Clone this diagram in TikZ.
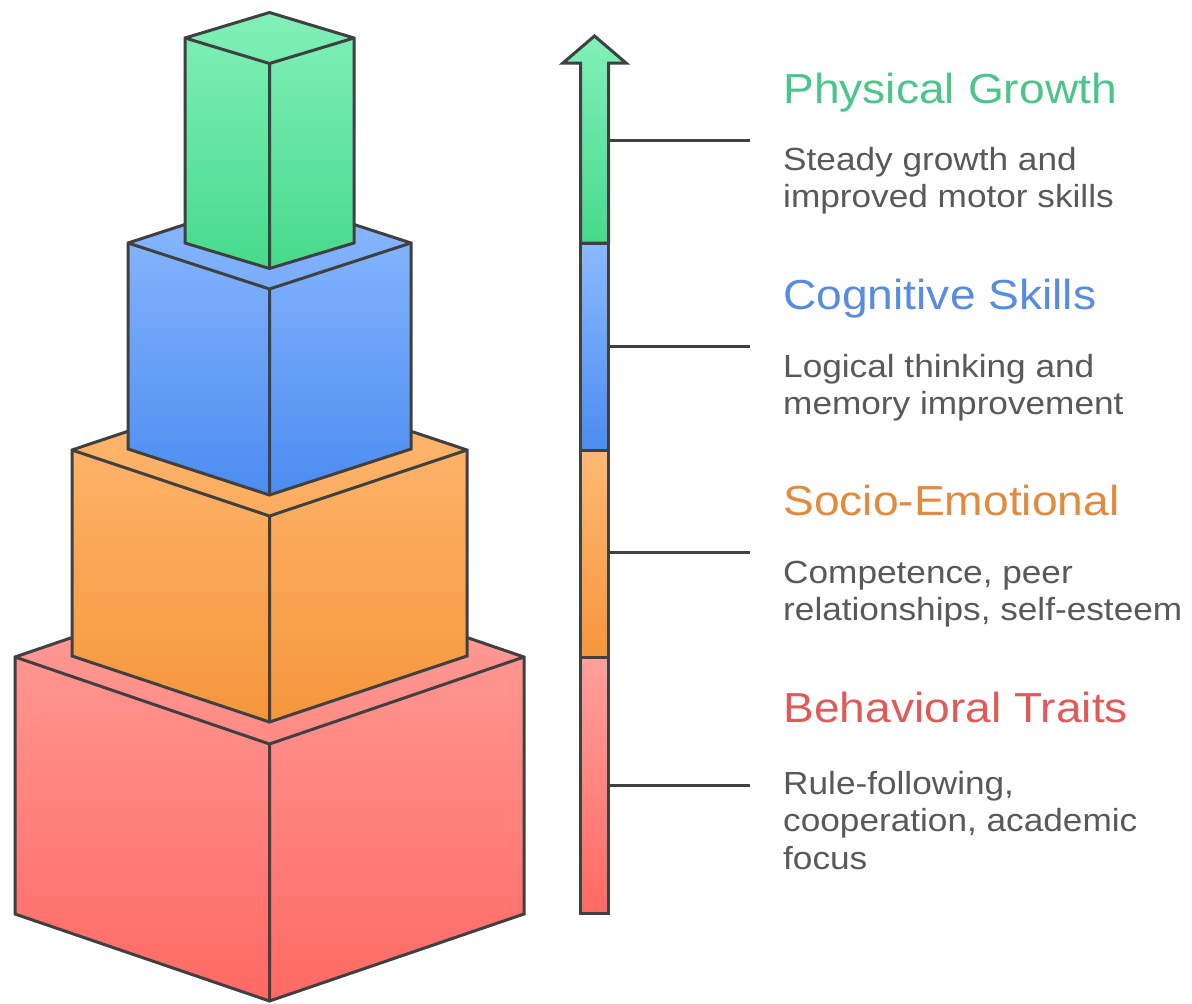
\documentclass[tikz,border=0pt]{standalone}
\usepackage{fontspec}
\setmainfont{Liberation Sans}[FakeStretch=1.1]
\definecolor{gTop}{RGB}{130,240,185}
\definecolor{gBot}{RGB}{70,218,140}
\definecolor{bTop}{RGB}{140,185,255}
\definecolor{bBot}{RGB}{75,140,240}
\definecolor{oTop}{RGB}{255,185,115}
\definecolor{oBot}{RGB}{245,150,60}
\definecolor{rTop}{RGB}{255,160,155}
\definecolor{rBot}{RGB}{255,105,100}
\definecolor{edgeC}{RGB}{64,64,64}
\definecolor{gTxt}{RGB}{77,196,138}
\definecolor{bTxt}{RGB}{88,140,225}
\definecolor{oTxt}{RGB}{226,138,62}
\definecolor{rTxt}{RGB}{224,90,90}
\definecolor{dTxt}{RGB}{89,89,89}
\tikzset{
  edge/.style={draw=edgeC, line width=3pt, line join=miter},
  conn/.style={draw=edgeC, line width=3pt},
  titletext/.style={anchor=base west, inner sep=0pt, font=\fontsize{42}{50}\selectfont},
  desctext/.style={anchor=base west, inner sep=0pt, text=dTxt, font=\fontsize{32}{37.5}\selectfont},
}
% #1 name, #2 cx, #3 half width, #4 y of side-top corners, #5 drop, #6 y of side-bottom corners, #7 top colour, #8 bottom colour
\newcommand{\isoblock}[8]{%
  \coordinate (#1-A) at (#2,{#4-#5});
  \coordinate (#1-L) at ({#2-#3},#4);
  \coordinate (#1-R) at ({#2+#3},#4);
  \coordinate (#1-F) at (#2,{#4+#5});
  \coordinate (#1-LB) at ({#2-#3},#6);
  \coordinate (#1-RB) at ({#2+#3},#6);
  \coordinate (#1-FB) at (#2,{#6+#5});
  \shade[top color=#7, bottom color=#8] (#1-A) -- (#1-R) -- (#1-RB) -- (#1-FB) -- (#1-LB) -- (#1-L) -- cycle;
  \draw[edge] (#1-A) -- (#1-R) -- (#1-RB) -- (#1-FB) -- (#1-LB) -- (#1-L) -- cycle;
  \draw[edge] (#1-L) -- (#1-F) -- (#1-R) (#1-F) -- (#1-FB);
}
\begin{document}
\begin{tikzpicture}[x=1pt, y=-1pt]
\useasboundingbox[fill=white] (0,0) rectangle (1192,1004);

% stacked blocks, back to front
\isoblock{red}{269.5}{254.5}{657}{87}{914}{rTop}{rBot}
\isoblock{orange}{269.5}{197.5}{450}{66}{656}{oTop}{oBot}
\isoblock{blue}{269.5}{141.5}{243}{46}{449}{bTop}{bBot}
\isoblock{green}{269.5}{84.5}{38}{25.5}{243}{gTop}{gBot}

% arrow bar
\shade[top color=gTop, bottom color=gBot] (594.5,36) -- (626,63) -- (608.5,63) -- (608.5,243) -- (580.5,243) -- (580.5,63) -- (563,63) -- cycle;
\shade[top color=bTop, bottom color=bBot] (580.5,243) rectangle (608.5,450);
\shade[top color=oTop, bottom color=oBot] (580.5,450) rectangle (608.5,657);
\shade[top color=rTop, bottom color=rBot] (580.5,657) rectangle (608.5,913);
\draw[edge] (594.5,36) -- (626,63) -- (608.5,63) -- (608.5,243) -- (580.5,243) -- (580.5,63) -- (563,63) -- cycle;
\draw[edge] (580.5,243) rectangle (608.5,450);
\draw[edge] (580.5,450) rectangle (608.5,657);
\draw[edge] (580.5,657) rectangle (608.5,913);

% connector ends
\coordinate (s1) at (608.5,140);  \coordinate (e1) at (750,140);
\coordinate (s2) at (608.5,346);  \coordinate (e2) at (750,346);
\coordinate (s3) at (608.5,552);  \coordinate (e3) at (750,552);
\coordinate (s4) at (608.5,785);  \coordinate (e4) at (750,785);
\draw[conn] (s1) -- (e1);
\draw[conn] (s2) -- (e2);
\draw[conn] (s3) -- (e3);
\draw[conn] (s4) -- (e4);

% texts
\node[titletext, text=gTxt] (t1) at (783,103) {Physical Growth};
\node[desctext] (d1) at (783,170) {\begin{tabular}[t]{@{}l@{}}Steady growth and\\improved motor skills\end{tabular}};
\node[titletext, text=bTxt] (t2) at (783,309) {Cognitive Skills};
\node[desctext] (d2) at (783,377) {\begin{tabular}[t]{@{}l@{}}Logical thinking and\\memory improvement\end{tabular}};
\node[titletext, text=oTxt] (t3) at (783,515) {Socio-Emotional};
\node[desctext] (d3) at (783,583) {\begin{tabular}[t]{@{}l@{}}Competence, peer\\relationships, self-esteem\end{tabular}};
\node[titletext, text=rTxt] (t4) at (783,722) {Behavioral Traits};
\node[desctext] (d4) at (783,794) {\begin{tabular}[t]{@{}l@{}}Rule-following,\\cooperation, academic\\focus\end{tabular}};
\end{tikzpicture}
\end{document}
